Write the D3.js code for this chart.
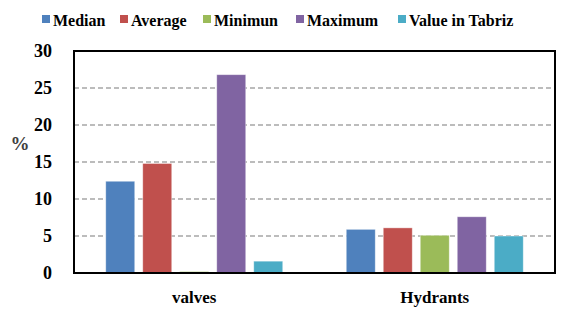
<!DOCTYPE html>
<html><head><meta charset="utf-8">
<script src="https://cdn.jsdelivr.net/npm/d3@7"></script>
</head><body style="margin:0"><svg id="c" width="582" height="309" style="display:block"></svg>
<script>
const categories = ["valves", "Hydrants"];
const seriesNames = ["Median", "Average", "Minimun", "Maximum", "Value in Tabriz"];
const seriesColors = ["#4F81BD", "#C0504D", "#9BBB59", "#8064A2", "#4BACC6"];
const median = [12.4, 5.9];
const average = [14.8, 6.1];
const minimum = [0.2, 5.1];
const maximum = [26.8, 7.6];
const tabriz = [1.6, 5.0];
const yTicks = [0, 5, 10, 15, 20, 25, 30];

const values = [median, average, minimum, maximum, tabriz];
const svg = d3.select("#c");
const FF = '"Liberation Serif"';
const m = {l: 74, r: 555, t: 51, b: 273};

const x0 = d3.scaleBand().domain(categories).range([m.l, m.r]).paddingInner(0).paddingOuter(0);
const x1 = d3.scaleBand().domain(seriesNames).range([0, 177]).paddingInner(8/37).paddingOuter(0);
const y = d3.scaleLinear().domain([0, 30]).range([m.b, m.t]);

svg.append("g").selectAll("line").data(yTicks.filter(t => t > 0 && t < 30)).join("line")
  .attr("x1", m.l).attr("x2", m.r).attr("y1", d => y(d)).attr("y2", d => y(d))
  .attr("stroke", "#a6a6a6").attr("stroke-width", 1.5).attr("stroke-dasharray", "5,3");

const g = svg.append("g");
categories.forEach((c, ci) => {
  const off = x0(c) + (x0.bandwidth() - 177) / 2;
  seriesNames.forEach((s, si) => {
    const v = values[si][ci];
    g.append("rect")
      .attr("x", off + x1(s)).attr("width", x1.bandwidth())
      .attr("y", y(v)).attr("height", y(0) - y(v))
      .attr("fill", seriesColors[si]).attr("stroke", "#fff").attr("stroke-opacity", 0.5).attr("stroke-width", 0.8);
  });
});

svg.append("rect").attr("x", m.l).attr("y", m.t).attr("width", m.r - m.l).attr("height", m.b - m.t)
  .attr("fill", "none").attr("stroke", "#000").attr("stroke-width", 2);

const yAxis = d3.axisLeft(y).tickValues(yTicks).tickSize(0).tickPadding(22);
const ya = svg.append("g").attr("transform", `translate(${m.l},0)`).call(yAxis);
ya.select(".domain").remove();
ya.attr("font-family", null).attr("font-size", null);
ya.selectAll("text").style("font-family", FF).style("font-weight", "bold").attr("font-size", 18).attr("fill", "#000");

const xAxis = d3.axisBottom(x0).tickSize(0).tickPadding(18);
const xa = svg.append("g").attr("transform", `translate(0,${m.b})`).call(xAxis);
xa.select(".domain").remove();
xa.attr("font-family", null).attr("font-size", null);
xa.selectAll("text").style("font-family", FF).style("font-weight", "bold").attr("font-size", 17).attr("fill", "#000");

svg.append("text").attr("x", 20).attr("y", 150).attr("text-anchor", "middle")
  .style("font-family", FF).style("font-weight", "bold").attr("font-size", 19).attr("fill", "#404040").text("%");

const legX = [42, 120, 203, 296, 398];
const leg = svg.append("g");
seriesNames.forEach((s, i) => {
  leg.append("rect").attr("x", legX[i]).attr("y", 15).attr("width", 8).attr("height", 8).attr("fill", seriesColors[i]);
  leg.append("text").attr("x", legX[i] + 11).attr("y", 26)
    .style("font-family", FF).style("font-weight", "bold").attr("font-size", 16).attr("fill", "#000").text(s);
});
</script></body></html>
